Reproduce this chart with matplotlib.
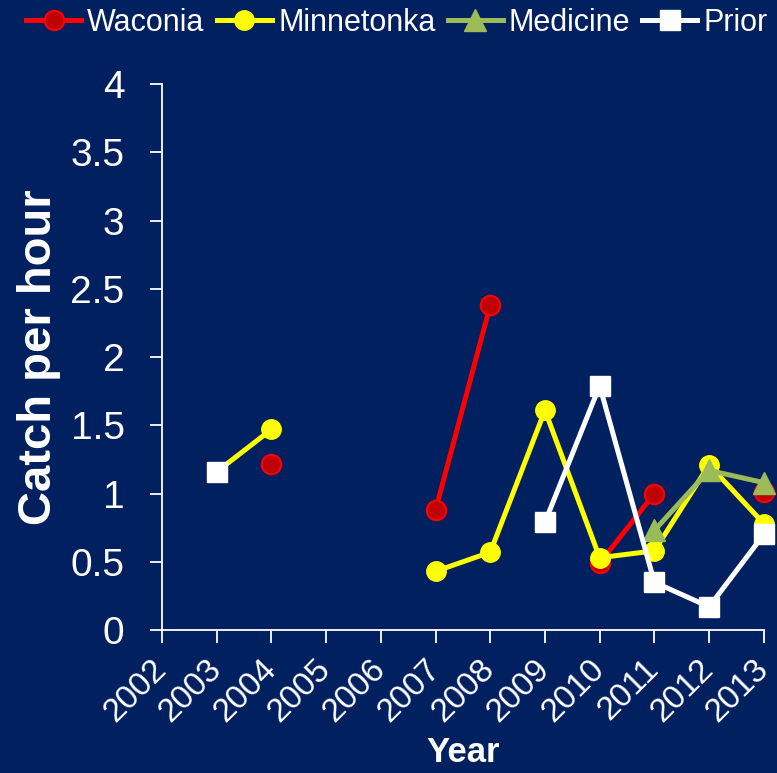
import numpy as np
import matplotlib
matplotlib.use("Agg")
import matplotlib.pyplot as plt

plt.rcParams['font.family'] = ['Liberation Sans', 'DejaVu Sans']

years = np.arange(2002, 2014)
year_labels = [str(y) for y in years]
nan = np.nan
waconia    = [nan, nan, 1.22, nan, nan, 0.88, 2.38, nan, 0.49, 1.00, nan, 1.01]
minnetonka = [nan, 1.16, 1.47, nan, nan, 0.43, 0.57, 1.61, 0.53, 0.58, 1.21, 0.78]
medicine   = [nan, nan, nan, nan, nan, nan, nan, nan, nan, 0.73, 1.17, 1.08]
prior      = [nan, 1.16, nan, nan, nan, nan, nan, 0.79, 1.79, 0.35, 0.17, 0.70]

bg = '#002060'
fig = plt.figure(figsize=(7.77, 7.73), dpi=100, facecolor=bg)
ax = fig.add_axes([0.2085, 0.185, 0.7745, 0.706], facecolor=bg)

lw = 3.6
ax.plot(years, waconia, color='#FF0000', lw=lw, marker='o', ms=14,
        mfc='#C00000', mec='#FF0000', mew=1.5, label='Waconia', zorder=3, clip_on=False)
ax.plot(years, minnetonka, color='#FFFF00', lw=lw, marker='o', ms=14,
        mfc='#FFFF00', mec='#FFFF00', label='Minnetonka', zorder=4, clip_on=False)
ax.plot(years, medicine, color='#9BBB59', lw=lw, marker='^', ms=16,
        mfc='#9BBB59', mec='#9BBB59', label='Medicine', zorder=5, clip_on=False)
ax.plot(years, prior, color='#FFFFFF', lw=lw, marker='s', ms=14,
        mfc='#FFFFFF', mec='#FFFFFF', label='Prior', zorder=6, clip_on=False)

ax.set_xlim(2002, 2013)
ax.set_ylim(0, 4)
ax.set_yticks(np.arange(0, 4.01, 0.5))
ax.set_yticklabels(['0', '0.5', '1', '1.5', '2', '2.5', '3', '3.5', '4'])
ax.set_xticks(years)
ax.set_xticklabels(year_labels, rotation=45, ha='right', va='center',
                   rotation_mode='anchor')

for s in ['top', 'right']:
    ax.spines[s].set_visible(False)
for s in ['left', 'bottom']:
    ax.spines[s].set_color('white')
    ax.spines[s].set_linewidth(1.3)

ax.tick_params(axis='y', colors='white', labelsize=28, length=9, width=1.3,
               direction='out', pad=18)
ax.tick_params(axis='x', colors='white', labelsize=24, length=9, width=1.3,
               direction='out', pad=16)

ax.set_ylabel('Catch per hour', color='white', fontsize=34, fontweight='bold')
ax.set_xlabel('Year', color='white', fontsize=25, fontweight='bold')
ax.yaxis.set_label_coords(-0.168, 0.5)
ax.xaxis.set_label_coords(0.5, -0.195)

leg = fig.legend(loc='upper left', bbox_to_anchor=(0.018, 1.006), ncol=4,
                 frameon=False, fontsize=22, handlelength=1.8,
                 handletextpad=0.2, columnspacing=0.4, borderaxespad=0,
                 labelcolor='white')

fig.savefig('out.png', dpi=100, facecolor=bg)
